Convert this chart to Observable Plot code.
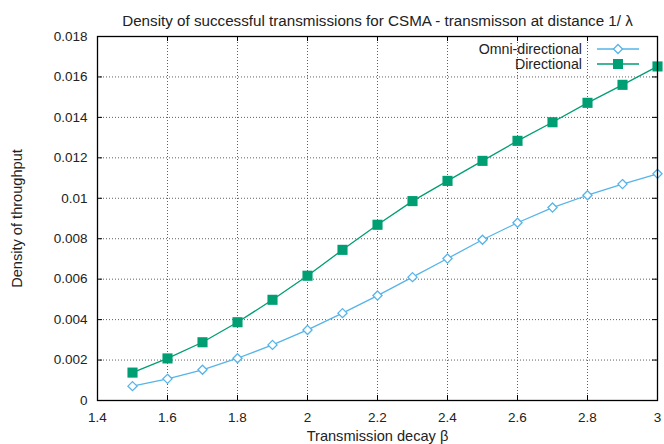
<!DOCTYPE html>
<html>
<head>
<meta charset="utf-8">
<script src="https://cdn.jsdelivr.net/npm/d3@7"></script>
<script src="https://cdn.jsdelivr.net/npm/@observablehq/plot@0.6"></script>
<style>
  html, body { margin: 0; padding: 0; background: #fff; }
  #chart { width: 664px; height: 444px; }
  svg { font-family: "Liberation Sans", Arial, sans-serif; }
</style>
</head>
<body>
<div id="chart"></div>
<script>
const title = "Density of successful transmissions for CSMA - transmisson at distance 1/ \u03bb";
const xLabel = "Transmission decay \u03b2";
const yLabel = "Density of throughput";

const beta = [1.5, 1.6, 1.7, 1.8, 1.9, 2.0, 2.1, 2.2, 2.3, 2.4, 2.5, 2.6, 2.7, 2.8, 2.9, 3.0];
const omni = [0.00071, 0.00107, 0.00152, 0.00209, 0.00275, 0.00349, 0.00432, 0.00519, 0.0061, 0.00702, 0.00795, 0.00879, 0.00954, 0.01015, 0.0107, 0.01121];
const directional = [0.00138, 0.00208, 0.00288, 0.00387, 0.00498, 0.00617, 0.00745, 0.00869, 0.00986, 0.01086, 0.01185, 0.01284, 0.01376, 0.01472, 0.01561, 0.01652];

const seriesNames = ["Omni-directional", "Directional"];
const seriesColors = ["#56b4e9", "#009e73"];

const xTicks = [1.4, 1.6, 1.8, 2.0, 2.2, 2.4, 2.6, 2.8, 3.0];
const yTicks = [0, 0.002, 0.004, 0.006, 0.008, 0.01, 0.012, 0.014, 0.016, 0.018];

const omniData = beta.map((b, i) => ({x: b, y: omni[i]}));
const dirData = beta.map((b, i) => ({x: b, y: directional[i]}));

const fmtY = d => d === 0 ? "0" : String(+d.toFixed(3));
const fmtX = d => String(+d.toFixed(1));

function legendMark(index, scales, values, dims) {
  const g = d3.create("svg:g");
  const right = dims.width - dims.marginRight;
  const top = dims.marginTop;
  seriesNames.forEach((name, i) => {
    const y = top + 13 + i * 15;
    g.append("text")
      .attr("x", right - 75).attr("y", y)
      .attr("dy", "0.35em")
      .attr("text-anchor", "end")
      .attr("font-size", 14.2)
      .attr("fill", "#222")
      .text(name);
    g.append("line")
      .attr("x1", right - 60).attr("x2", right - 18)
      .attr("y1", y).attr("y2", y)
      .attr("stroke", seriesColors[i]).attr("stroke-width", 1.3);
    const cx = right - 39;
    if (i === 0) {
      g.append("path")
        .attr("d", `M${cx},${y-4.5}L${cx+4.5},${y}L${cx},${y+4.5}L${cx-4.5},${y}Z`)
        .attr("fill", "white").attr("stroke", seriesColors[i]).attr("stroke-width", 1.3);
    } else {
      g.append("rect")
        .attr("x", cx - 5).attr("y", y - 5).attr("width", 10).attr("height", 10)
        .attr("fill", seriesColors[i]);
    }
  });
  return g.node();
}

const plot = Plot.plot({
  width: 664,
  height: 444,
  marginLeft: 97,
  marginRight: 7,
  marginTop: 36,
  marginBottom: 44,
  style: {fontFamily: "Liberation Sans, Arial, sans-serif", fontSize: "13.5px", color: "#222", background: "white"},
  x: {domain: [1.4, 3.0]},
  y: {domain: [0, 0.018]},
  marks: [
    // grid
    Plot.gridX(xTicks, {stroke: "#444", strokeOpacity: 0.85, strokeDasharray: "1,2"}),
    Plot.gridY(yTicks, {stroke: "#444", strokeOpacity: 0.85, strokeDasharray: "1,2"}),
    // inward ticks
    Plot.tickX(xTicks, {insetTop: 359, stroke: "black"}),
    Plot.tickX(xTicks, {insetBottom: 359, stroke: "black"}),
    Plot.tickY(yTicks, {insetLeft: 555, stroke: "black"}),
    Plot.tickY(yTicks, {insetRight: 555, stroke: "black"}),
    // axes (tick labels only)
    Plot.axisX(xTicks, {tickSize: 0, tickPadding: 12, tickFormat: fmtX, fontSize: 13.5, label: null}),
    Plot.axisY(yTicks, {tickSize: 0, tickPadding: 10, tickFormat: fmtY, fontSize: 13.5, label: null}),
    // axis titles
    Plot.axisX({ticks: [], label: xLabel, labelAnchor: "center", labelArrow: "none", labelOffset: 40, fontSize: 14.6}),
    Plot.axisY({ticks: [], label: yLabel, labelAnchor: "center", labelArrow: "none", labelOffset: 86, fontSize: 14.6}),
    // series
    Plot.line(omniData, {x: "x", y: "y", stroke: seriesColors[0], strokeWidth: 1.3}),
    Plot.dot(omniData, {x: "x", y: "y", symbol: "diamond2", r: 4.1, stroke: seriesColors[0], fill: "white", strokeWidth: 1.3}),
    Plot.line(dirData, {x: "x", y: "y", stroke: seriesColors[1], strokeWidth: 1.3}),
    Plot.dot(dirData, {x: "x", y: "y", symbol: "square", r: 5.7, fill: seriesColors[1], stroke: "none"}),
    // frame
    Plot.frame({stroke: "black", strokeWidth: 1.3}),
    // title
    Plot.text([title], {frameAnchor: "top", dy: -21, fontSize: 15.2, fill: "#222"}),
    legendMark
  ]
});

document.getElementById("chart").appendChild(plot);
</script>
</body>
</html>
